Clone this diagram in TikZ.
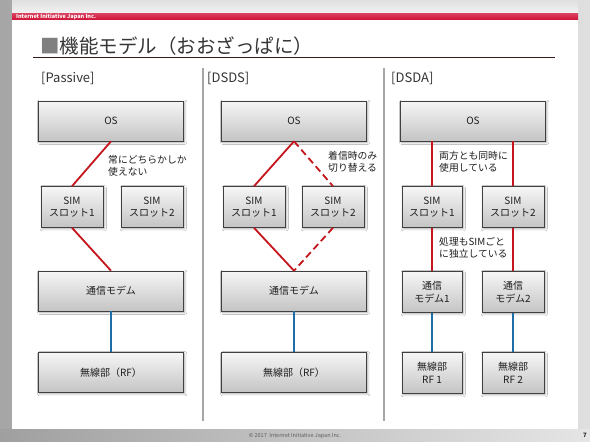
\documentclass[tikz,border=0pt]{standalone}
\usepackage{fontspec}
\setmainfont{Noto Sans CJK JP}
\usetikzlibrary{positioning,shadows.blur}
\definecolor{iijred}{HTML}{D0153A}
\definecolor{wire}{HTML}{C4161C}
\definecolor{rfwire}{HTML}{1F6DA6}
\definecolor{boxtop}{HTML}{F6F6F6}
\definecolor{boxbot}{HTML}{C4C4C4}
\definecolor{ink}{HTML}{1E1E1E}
\definecolor{muted}{HTML}{5E5E5E}
\definecolor{rule}{HTML}{A6A6A6}
\tikzset{
  blk/.style={draw=ink!85,line width=0.6pt,top color=boxtop,bottom color=boxbot,align=center,text=ink,inner sep=2pt,font=\fontsize{10}{12.5}\selectfont,blur shadow={shadow blur steps=4,shadow xshift=1.2pt,shadow yshift=-1.2pt,shadow opacity=35}},
  wideblk/.style={blk,minimum width=145pt,minimum height=40pt},
  slotblk/.style={blk,minimum width=62pt,minimum height=41pt},
  redwire/.style={draw=wire,line width=1.8pt},
  swapwire/.style={redwire,dash pattern=on 7pt off 4pt},
  rfline/.style={draw=rfwire,line width=1.8pt},
  note/.style={anchor=north west,inner sep=0pt,align=left,text=ink,font=\fontsize{9.8}{12.5}\selectfont},
  head/.style={anchor=west,inner sep=0pt,text=ink!90,font=\fontsize{13}{15}\selectfont},
  divider/.style={draw=rule,line width=1.2pt},
}

\begin{document}
\begin{tikzpicture}[x=1pt,y=-1pt]
    % slide frame
    \fill[left color=gray!70,right color=gray!25] (0,0) rectangle (590,442);
    \fill[top color=gray!25,bottom color=gray!10] (12,0) rectangle (578,13);
    \fill[white] (12,19.5) rectangle (578,429);
    \fill[left color=gray!75,right color=gray!20] (0,429) rectangle (590,442);
    \fill[top color=iijred!80,bottom color=iijred] (12,13) rectangle (578,19.5);
    \node[anchor=west,inner sep=0pt,text=white,font=\fontsize{5.5}{6}\selectfont\bfseries] (corp) at (16,16.3) {Internet Initiative Japan Inc.};
    \node[anchor=west,inner sep=0pt,text=ink!90,font=\fontsize{19.5}{22}\selectfont] (title) at (40,46) {\textcolor{gray}{■}機能モデル（おおざっぱに）};
    \draw[draw=ink!90!red,line width=0.8pt] (33,57.5) -- (555,57.5);
    \node[inner sep=0pt,text=muted,font=\fontsize{5.5}{6}\selectfont] (foot) at (295,436) {© 2017\ \ Internet Initiative Japan Inc.};
    \node[inner sep=0pt,text=ink,font=\fontsize{6}{6}\selectfont\bfseries] (page) at (585,435.5) {7};

    % columns
    \coordinate (d1a) at (203,68);
    \coordinate (d1b) at (203,421);
    \coordinate (d2a) at (384,68);
    \coordinate (d2b) at (384,421);
    \draw[divider] (d1a) -- (d1b);
    \draw[divider] (d2a) -- (d2b);
    \node[head] (hpas) at (41,78) {[Passive]};
    \node[head] (hdsds) at (207,78) {[DSDS]};
    \node[head] (hdsda) at (391,78) {[DSDA]};

    % Passive
    \node[wideblk] (os1) at (111,121) {OS};
    \node[slotblk] (s1a) at (72,207) {SIM\\スロット1};
    \node[slotblk] (s1b) at (152,207) {SIM\\スロット2};
    \node[wideblk] (m1) at (111,291) {通信モデム};
    \node[wideblk] (rf1) at (111,372.5) {無線部（RF）};
    \draw[redwire] (os1.south) -- (s1a.north);
    \draw[redwire] (s1a.south) -- (m1.north);
    \draw[rfline] (m1) -- (rf1);
    \node[note] (n1) at (108,155) {常にどちらかしか\\使えない};

    % DSDS
    \node[wideblk] (os2) at (294,121) {OS};
    \node[slotblk] (s2a) at (254,207) {SIM\\スロット1};
    \node[slotblk] (s2b) at (333,207) {SIM\\スロット2};
    \node[wideblk] (m2) at (294,291) {通信モデム};
    \node[wideblk] (rf2) at (294,372.5) {無線部（RF）};
    \draw[redwire] (os2.south) -- (s2a.north);
    \draw[swapwire] (os2.south) -- (s2b.north);
    \draw[redwire] (s2a.south) -- (m2.north);
    \draw[swapwire] (s2b.south) -- (m2.north);
    \draw[rfline] (m2) -- (rf2);
    \node[note] (n2) at (328,151) {着信時のみ\\切り替える};

    % DSDA
    \node[wideblk] (os3) at (473,121) {OS};
    \node[slotblk,minimum width=60pt] (s3a) at (432,207) {SIM\\スロット1};
    \node[slotblk] (s3b) at (513,207) {SIM\\スロット2};
    \node[slotblk,minimum width=60pt] (m3a) at (432,292) {通信\\モデム1};
    \node[slotblk] (m3b) at (513,292) {通信\\モデム2};
    \node[slotblk,minimum width=60pt] (rf3a) at (432,373) {無線部\\RF 1};
    \node[slotblk] (rf3b) at (513,373) {無線部\\RF 2};
    \draw[redwire] (s3a.north |- os3.south) -- (s3a.north);
    \draw[redwire] (s3b.north |- os3.south) -- (s3b.north);
    \draw[redwire] (s3a) -- (m3a);
    \draw[redwire] (s3b) -- (m3b);
    \draw[rfline] (m3a) -- (rf3a);
    \draw[rfline] (m3b) -- (rf3b);
    \node[note] (n3) at (439,151) {両方とも同時に\\使用している};
    \node[note] (n4) at (439,237) {処理もSIMごと\\に独立している};
\end{tikzpicture}
\end{document}
